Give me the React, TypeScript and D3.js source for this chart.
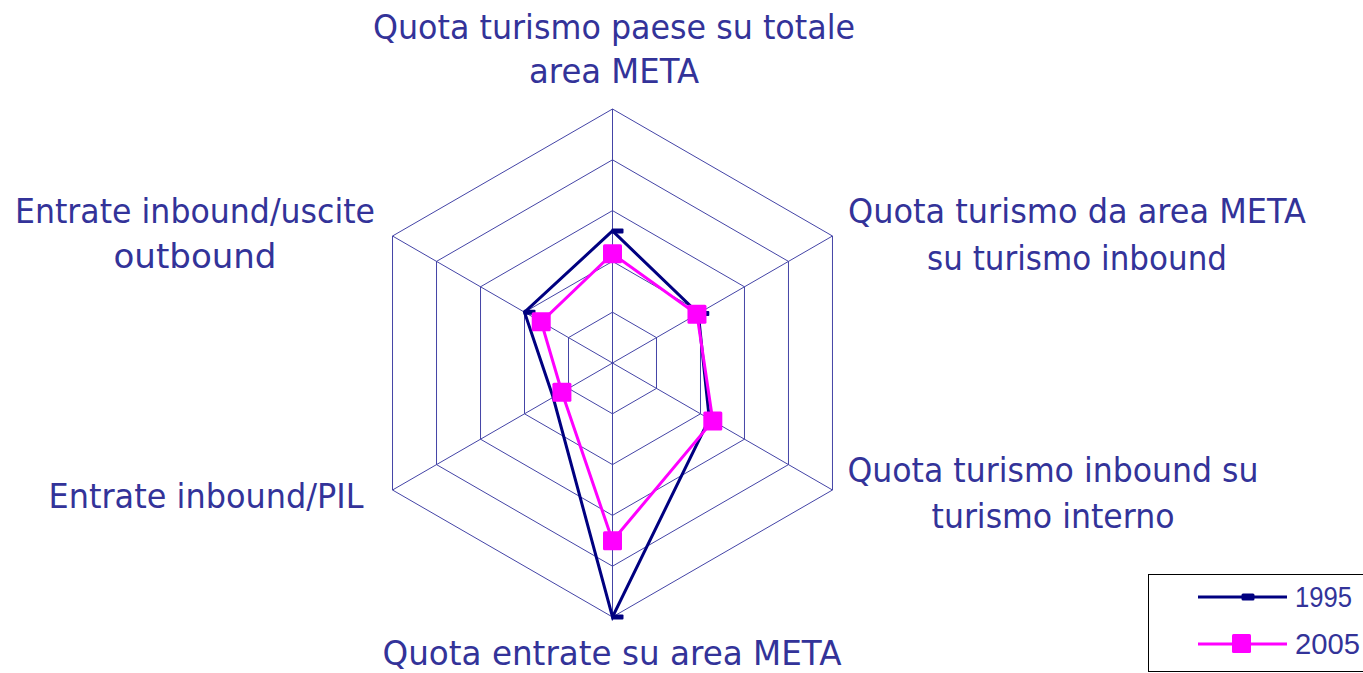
import React from "react";
import * as d3 from "d3";

// axes clockwise from the top
const axisLabels: string[][] = [
  ["Quota turismo paese su totale", "area META"],
  ["Quota turismo da area META", "su turismo inbound"],
  ["Quota turismo inbound su", "turismo interno"],
  ["Quota entrate su area META"],
  ["Entrate inbound/PIL"],
  ["Entrate inbound/uscite", "outbound"],
];

const seriesNames = ["1995", "2005"];
const values1995 = [2.6, 1.95, 2.2, 5.0, 1.35, 2.0];
const values2005 = [2.15, 1.92, 2.28, 3.5, 1.15, 1.62];
const ringLevels = [1, 2, 3, 4, 5];

// label placement: centre x, baselines, fitted widths
const labelLayout = [
  { x: 614, y: [39, 83], w: [482, 170] },
  { x: 1077, y: [223, 270], w: [458, 300] },
  { x: 1053, y: [482, 528], w: [411, 243] },
  { x: 612, y: [665], w: [459] },
  { x: 206, y: [508], w: [315] },
  { x: 195, y: [223, 268], w: [360, 163] },
];

const W = 1363;
const H = 673;
const cx = 612.5;
const cy = 363;
const R = 254;

const GRID = "#4444a6";
const TEXT = "#333399";
const NAVY = "#000080";
const PINK = "#ff00ff";

export default function App() {
  const n = axisLabels.length;
  const angle = d3.scaleLinear().domain([0, n]).range([0, 2 * Math.PI]);
  const r = d3.scaleLinear().domain([0, 5]).range([0, R]);

  const pt = (i: number, v: number): [number, number] => {
    const a = angle(i);
    return [cx + r(v) * Math.sin(a), cy - r(v) * Math.cos(a)];
  };

  const closed = d3.line<[number, number]>().curve(d3.curveLinearClosed);

  const rings = ringLevels.map((lv) => closed(d3.range(n).map((i) => pt(i, lv))));
  const p1995 = values1995.map((v, i) => pt(i, v));
  const p2005 = values2005.map((v, i) => pt(i, v));

  return (
    <svg
      width={W}
      height={H}
      style={{ position: "absolute", left: 0, top: 0, background: "#fff" }}
    >
      <g fill="none" stroke={GRID} strokeWidth={1}>
        {rings.map((d, k) => (
          <path key={k} d={d as string} />
        ))}
        {d3.range(n).map((i) => {
          const [x, y] = pt(i, 5);
          return <line key={i} x1={cx} y1={cy} x2={x} y2={y} />;
        })}
      </g>

      <path d={closed(p1995) as string} fill="none" stroke={NAVY} strokeWidth={3} strokeLinejoin="miter" />
      <g fill={NAVY}>
        {p1995.map(([x, y], i) => (
          <rect key={i} x={x - 1} y={y - 2.5} width={12} height={5} rx={1} />
        ))}
      </g>

      <path d={closed(p2005) as string} fill="none" stroke={PINK} strokeWidth={3} />
      <g fill={PINK}>
        {p2005.map(([x, y], i) => (
          <rect key={i} x={x - 9.5} y={y - 9.5} width={19} height={19} rx={1.5} />
        ))}
      </g>

      <g fill={TEXT} fontFamily="'DejaVu Sans', Verdana, sans-serif" fontSize={33} textAnchor="middle">
        {axisLabels.map((lines, i) =>
          lines.map((s, j) => (
            <text
              key={i + "-" + j}
              x={labelLayout[i].x}
              y={labelLayout[i].y[j]}
              textLength={labelLayout[i].w[j]}
              lengthAdjust="spacingAndGlyphs"
            >
              {s}
            </text>
          ))
        )}
      </g>

      <g>
        <rect x={1148.5} y={574.5} width={220} height={97} fill="#fff" stroke="#000" strokeWidth={1} />
        <line x1={1198} y1={597} x2={1287} y2={597} stroke={NAVY} strokeWidth={3} />
        <rect x={1241.5} y={593.5} width={13} height={7} rx={1.5} fill={NAVY} />
        <line x1={1198} y1={644} x2={1287} y2={644} stroke={PINK} strokeWidth={3} />
        <rect x={1232} y={634} width={19} height={19} rx={1.5} fill={PINK} />
        <g fill={TEXT} fontFamily="'Liberation Sans', Arial, sans-serif" fontSize={29}>
          <text x={1295} y={607} textLength={57} lengthAdjust="spacingAndGlyphs">
            {seriesNames[0]}
          </text>
          <text x={1295} y={654} textLength={65} lengthAdjust="spacingAndGlyphs">
            {seriesNames[1]}
          </text>
        </g>
      </g>
    </svg>
  );
}
